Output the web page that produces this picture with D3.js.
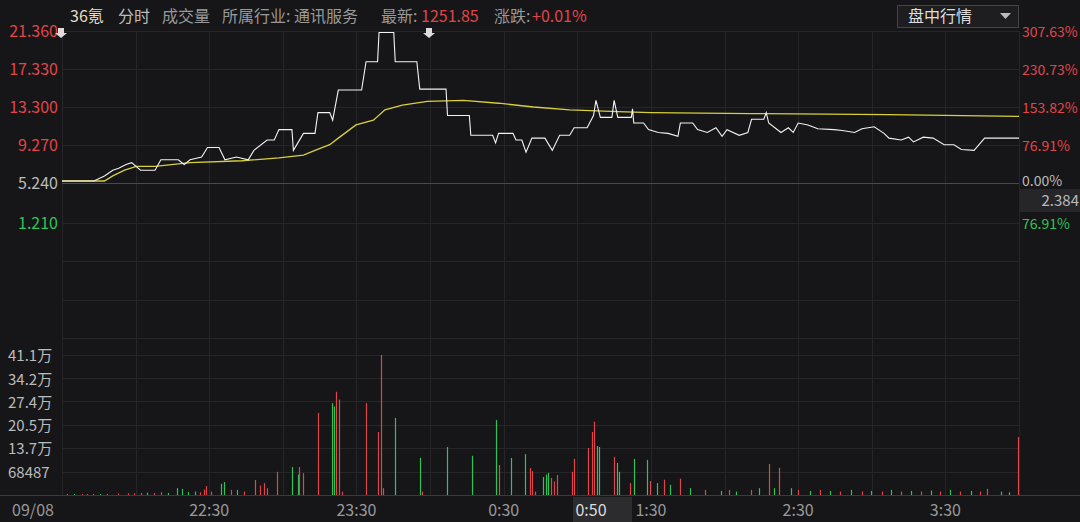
<!DOCTYPE html>
<html><head><meta charset="utf-8">
<script src="https://cdn.jsdelivr.net/npm/d3@7"></script>
<style>body{margin:0;background:#161618}svg{display:block}</style>
</head><body>
<script>
// minutes from 21:30, price
var pricePts=[[0,5.45],[13,5.45],[17.3,5.98],[20.7,6.6],[23.1,6.8],[26.1,7.2],[28.4,7.4],[32,6.6],[37.9,6.6],[40.3,7.7],[47.4,7.7],[49.8,7.2],[52.2,7.7],[56.9,8.0],[59.3,9.0],[64,9.0],[66.4,7.7],[71.1,8.0],[75.9,7.7],[78.2,8.7],[83.6,9.8],[86.5,9.8],[88.4,10.9],[93.7,10.9],[94.3,8.7],[98.4,10.5],[103.1,10.5],[104.3,12.7],[109.1,12.7],[110.3,11.9],[112.6,15.1],[122.1,15.1],[123.9,18.1],[128.6,18.1],[129.2,21.2],[135.2,21.2],[135.8,18.1],[144.6,18.1],[145.8,15.2],[156.5,15.2],[157.1,12.4],[166,12.4],[166.6,10.3],[175.5,10.3],[176.7,9.5],[177.9,10.5],[183.8,10.5],[185,9.8],[187.4,9.8],[189.1,8.5],[191.5,10.0],[196.8,10.0],[199.8,8.7],[202.8,10.3],[206.9,10.3],[208.7,11.1],[214,11.1],[216.6,12.4],[217.6,14.0],[219.4,12.2],[224.1,12.2],[225,14.0],[226.5,12.2],[232,12.2],[232.5,13.1],[233,11.6],[237,11.6],[239,10.9],[243,10.6],[247,10.5],[251,10.2],[252,11.6],[257,11.6],[259,10.9],[263,10.6],[266.5,11.1],[269,10.2],[271,10.9],[276,10.3],[279.5,10.6],[281,12.0],[286,12.0],[287,12.7],[288,11.6],[293,10.6],[296,11.1],[298,10.6],[300,11.6],[304,11.4],[308,11.0],[314.6,10.9],[318,10.8],[323,10.6],[326,11.0],[328.5,11.1],[331,11.2],[335,10.5],[337,10.0],[342,9.8],[345,10.1],[347,9.6],[351,10.1],[355,10.0],[359.5,9.3],[363.5,9.3],[366.5,8.8],[371.7,8.7],[373.7,9.3],[376,10.0],[390,10.0]];
var avgPts=[[0,5.45],[17.3,5.45],[20.7,6.0],[25.5,6.6],[30.3,7.0],[37.9,7.0],[52.2,7.4],[73.5,7.6],[88.4,7.9],[98.4,8.2],[103.1,8.7],[109.1,9.3],[112.6,10.0],[119.8,11.4],[126.9,11.9],[131.6,13.0],[138.7,13.5],[148.9,13.9],[163.6,14.0],[177.9,13.7],[192.1,13.3],[206.9,13.0],[226.5,12.8],[240,12.7],[281,12.6],[337,12.5],[390,12.3]];
// minute, volume (万), 1 = up (red), 0 = down (green)
var volBars=[[2,0.3,1],[5,0.3,0],[8,0.3,1],[10,0.3,1],[12.6,0.3,1],[15.3,0.3,0],[18.4,0.3,1],[22.8,0.4,1],[26.7,0.5,1],[29.3,0.5,1],[32,0.6,1],[34.8,0.7,0],[37.5,0.6,1],[40.3,0.8,1],[43,0.6,0],[46.9,2.0,0],[49,1.8,0],[51.2,0.9,0],[54,1.0,0],[56.1,0.8,1],[57.7,1.6,1],[58.8,2.6,1],[60.8,1.0,1],[64.8,3.3,0],[65.9,3.8,0],[68.7,1.5,1],[71.4,1.5,0],[74.2,1.0,1],[78.5,4.4,1],[80.8,2.8,1],[82.2,3.5,1],[83.4,2.0,1],[87.8,6.8,1],[93.7,8.2,0],[96,6.0,0],[96.6,8.2,1],[98.2,6.4,1],[104.2,24.1,1],[110.2,27.0,0],[110.7,26.0,0],[111.8,30.3,1],[112.9,28.0,1],[114,1.0,1],[123.9,27.0,1],[128.8,18.5,1],[129.9,41.1,1],[131,2.0,1],[135.9,22.6,0],[145.7,10.9,0],[146.8,1.0,1],[156.7,14.1,0],[167,11.5,0],[176.9,22.0,0],[178,8.8,1],[182.9,10.9,0],[188.8,12.0,0],[190.6,7.9,1],[191.6,7.0,1],[192.7,1.0,1],[196,5.3,0],[197.1,6.0,0],[198.2,6.5,0],[199.3,5.0,1],[200.3,4.0,1],[201.9,5.9,1],[208,6.8,1],[208.5,10.6,1],[214.5,13.8,1],[216.1,18.5,1],[216.7,21.5,1],[217.9,14.4,0],[218.8,14.1,0],[225,11.2,1],[226,9.4,0],[227.1,6.8,0],[231.5,3.5,1],[233.1,10.6,0],[238.6,10.3,0],[239.7,4.1,1],[242.4,3.5,0],[245.2,4.5,1],[247.9,3.0,0],[251.7,4.8,1],[256,2.0,0],[262,1.5,1],[268.5,1.2,0],[272,1.5,1],[274.6,1.0,0],[280.7,1.5,1],[284,2.0,0],[288,9.1,1],[290,2.0,0],[292,8.0,1],[297,2.0,0],[300,1.5,1],[305,1.2,0],[309,1.5,1],[313,1.2,0],[317,1.0,1],[321.5,1.5,0],[326,1.0,1],[329.7,1.2,0],[334,1.0,1],[337.8,1.5,0],[342,1.0,1],[346,1.2,0],[350,1.0,1],[354,1.3,0],[358,1.0,1],[362,1.5,0],[366,1.0,1],[370.5,1.2,0],[374,1.0,1],[377,1.8,1],[382.7,1.0,0],[386,0.8,0],[389.6,17.0,1]];
var priceTicks=[21.36,17.33,13.30,9.27,5.24];
var pctTicks=['307.63%','230.73%','153.82%','76.91%','0.00%'];
var volTicks=[[41.1,'41.1万'],[34.2,'34.2万'],[27.4,'27.4万'],[20.5,'20.5万'],[13.7,'13.7万'],[6.8487,'68487']];
var timeTicks=[[0,'09/08'],[60,'22:30'],[120,'23:30'],[180,'0:30'],[240,'1:30'],[300,'2:30'],[360,'3:30']];

var W=1080,H=522,L=62,R=1019;
var svg=d3.select('body').append('svg').attr('width',W).attr('height',H);
var font='"Microsoft YaHei","Noto Sans CJK SC",sans-serif';
var x=d3.scaleLinear().domain([0,390]).range([L,R]);
var y=d3.scaleLinear().domain([5.24,21.36]).range([183,31]);
var yv=d3.scaleLinear().domain([0,41.1]).range([495,355]);

// grid
var g=svg.append('g').attr('stroke','#262628').attr('stroke-width',1);
[31,69,107,145,223,261,300,338,355,378,401,425,448,472].forEach(function(v){
  g.append('line').attr('x1',L).attr('x2',R).attr('y1',v+0.5).attr('y2',v+0.5);});
d3.range(0,391,30).forEach(function(m){
  g.append('line').attr('x1',Math.round(x(m))+0.5).attr('x2',Math.round(x(m))+0.5).attr('y1',31).attr('y2',495);});
svg.append('line').attr('x1',L).attr('x2',R).attr('y1',183.5).attr('y2',183.5).attr('stroke','#4a4a4c');
svg.append('line').attr('x1',0).attr('x2',W).attr('y1',495.5).attr('y2',495.5).attr('stroke','#3a3a3c');

// left/right axis labels
priceTicks.forEach(function(p,i){
  svg.append('text').attr('x',58).attr('y',y(p)+6).attr('text-anchor','end').attr('font-size',16).attr('font-family',font)
    .attr('fill',i==4?'#bbbbbb':'#e0454a').text(p.toFixed(3));
  svg.append('text').attr('x',1022).attr('y',y(p)+(i==4?3:6)).attr('font-size',14).attr('font-family',font)
    .attr('fill',i==4?'#bbbbbb':'#e0454a').text(pctTicks[i]);
});
svg.append('text').attr('x',58).attr('y',229).attr('text-anchor','end').attr('font-size',16).attr('font-family',font).attr('fill','#2fc35a').text('1.210');
svg.append('text').attr('x',1022).attr('y',229).attr('font-size',14).attr('font-family',font).attr('fill','#2fc35a').text('76.91%');
svg.append('rect').attr('x',1020).attr('y',189).attr('width',60).attr('height',23).attr('fill','#262628');
svg.append('text').attr('x',1079).attr('y',206).attr('text-anchor','end').attr('font-size',15).attr('font-family',font).attr('fill','#bbbbbb').text('2.384');
volTicks.forEach(function(t){
  svg.append('text').attr('x',8).attr('y',yv(t[0])+6).attr('font-size',15).attr('font-family',font).attr('fill','#bbbbbb').text(t[1]);});
timeTicks.forEach(function(t){
  svg.append('text').attr('x',t[0]==0?33:x(t[0])).attr('y',516).attr('text-anchor','middle').attr('font-size',16).attr('font-family',font).attr('fill','#999999').text(t[1]);});
svg.append('rect').attr('x',573).attr('y',497).attr('width',59).attr('height',25).attr('fill','#2c2c2e');
svg.append('text').attr('x',591).attr('y',516).attr('text-anchor','middle').attr('font-size',16).attr('font-family',font).attr('fill','#dddddd').text('0:50');

// volume bars
svg.append('g').selectAll('line').data(volBars).enter().append('line')
  .attr('x1',function(d){return Math.round(x(d[0]))+0.5;}).attr('x2',function(d){return Math.round(x(d[0]))+0.5;})
  .attr('y1',495).attr('y2',function(d){return yv(d[1]);})
  .attr('stroke',function(d){return d[2]?'#e0454a':'#2fc35a';}).attr('stroke-width',1.2);

// lines
var ln=d3.line().x(function(d){return x(d[0]);}).y(function(d){return y(d[1]);});
svg.append('path').datum(avgPts).attr('d',ln).attr('fill','none').attr('stroke','#d8cf3c').attr('stroke-width',1.3);
svg.append('path').datum(pricePts).attr('d',ln).attr('fill','none').attr('stroke','#f2f2f2').attr('stroke-width',1.1);

// small markers
[[61,33],[429,33]].forEach(function(p){
  svg.append('path').attr('d','M'+(p[0]-3)+','+(p[1]-5)+'h6v5h3l-6,5l-6,-5h3z').attr('fill','#dddddd');});

// header
var hx=[[70,'36氪','#e8dfc0'],[118,'分时','#bbbbbb'],[162,'成交量','#999999'],[222,'所属行业: 通讯服务','#999999'],[381,'最新:','#999999'],[421,'1251.85','#e0454a'],[494,'涨跌:','#999999'],[532,'+0.01%','#e0454a']];
hx.forEach(function(h){
  svg.append('text').attr('x',h[0]).attr('y',22).attr('font-size',16).attr('font-family',font).attr('fill',h[2]).text(h[1]);});
svg.append('rect').attr('x',897.5).attr('y',5.5).attr('width',121).attr('height',22).attr('fill','#1e1e20').attr('stroke','#444446');
svg.append('text').attr('x',908).attr('y',22).attr('font-size',16).attr('font-family',font).attr('fill','#dddddd').text('盘中行情');
svg.append('path').attr('d','M1000,13h11l-5.5,6z').attr('fill','#bbbbbb');
</script>
</body></html>
